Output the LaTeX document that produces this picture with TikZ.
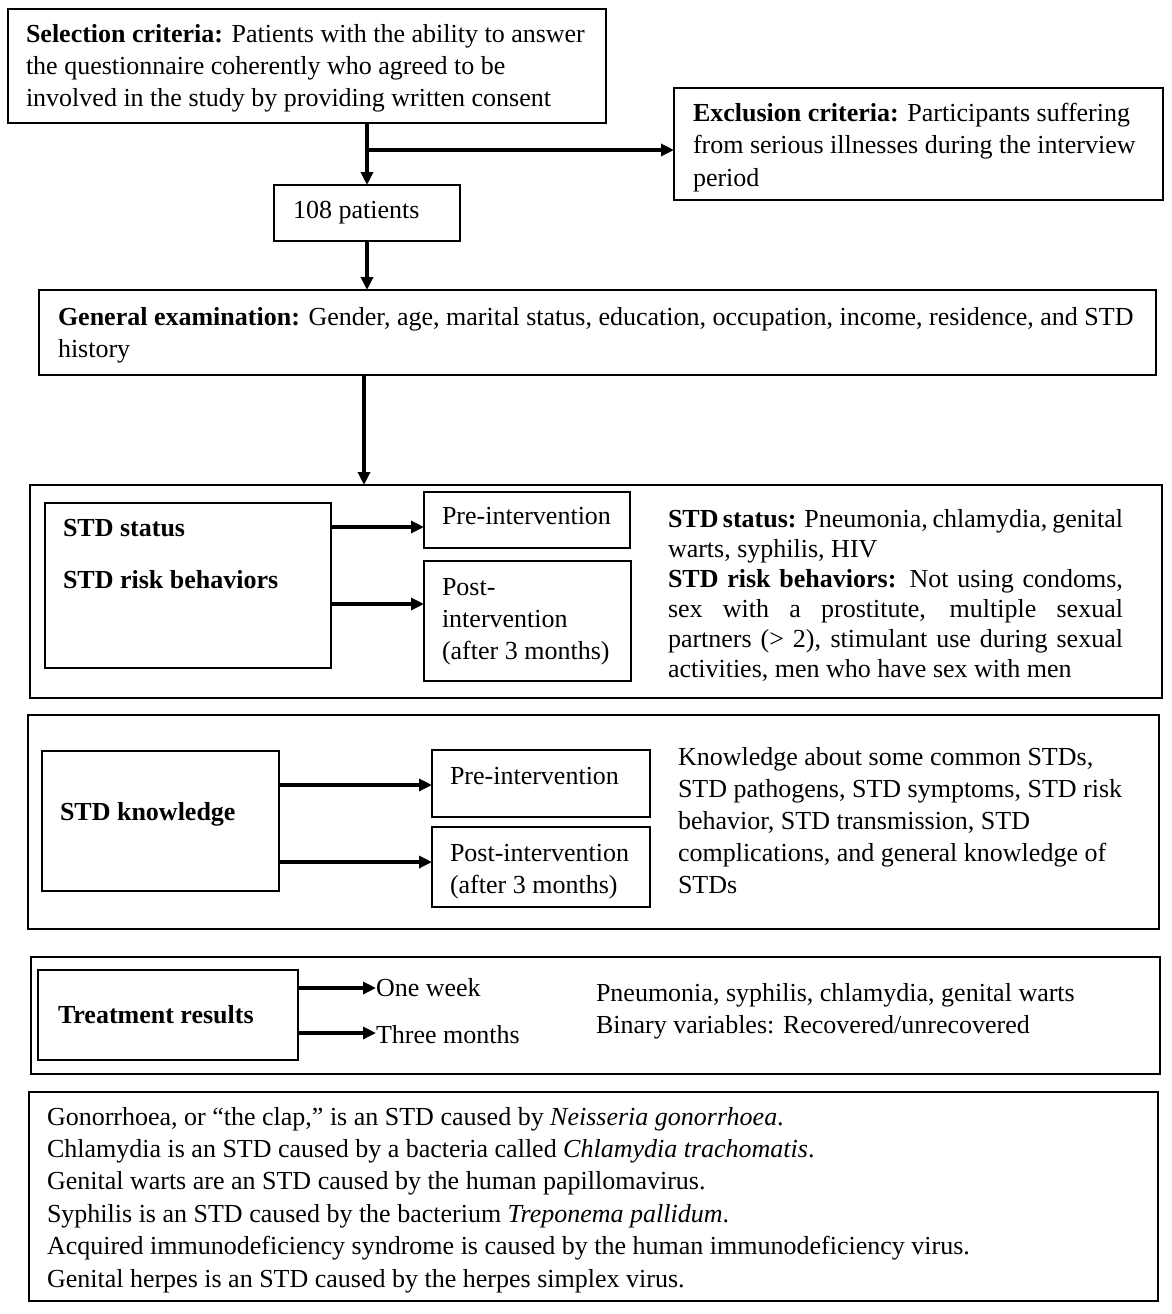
\documentclass[tikz,border=0pt]{standalone}
\usepackage{fontspec}
\setmainfont{Liberation Serif}
\usetikzlibrary{arrows.meta}
\tikzset{
  box/.style={draw, line width=1.8pt, inner sep=0pt, outer sep=0pt},
  arr/.style={line width=3.2pt, -{Triangle[length=13pt,width=12pt]}},
  txt/.style={anchor=base west, inner sep=0pt, outer sep=0pt, font=\fontsize{26}{32}\selectfont},
}
\newcommand\blk[2]{\vtop{\baselineskip=#1\relax #2}}
\begin{document}
\begin{tikzpicture}[x=1pt,y=-1pt]
\useasboundingbox (0,0) rectangle (1171,1314);
% boxes
\node[box, minimum width=598pt, minimum height=114pt] (sel) at (307,66) {};
\node[box, minimum width=489pt, minimum height=112pt] (excl) at (918.5,144) {};
\node[box, minimum width=186pt, minimum height=56pt] (p108) at (367,213) {};
\node[box, minimum width=1117pt, minimum height=85pt] (gen) at (597.5,332.5) {};
\node[box, minimum width=1132pt, minimum height=213pt] (b1) at (596,591.5) {};
\node[box, minimum width=286pt, minimum height=165pt] (stat) at (188,585.5) {};
\node[box, minimum width=206pt, minimum height=56pt] (pre1) at (527,520) {};
\node[box, minimum width=207pt, minimum height=120pt] (post1) at (527.5,621) {};
\node[box, minimum width=1131pt, minimum height=214pt] (b2) at (593.5,822) {};
\node[box, minimum width=237pt, minimum height=140pt] (know) at (160.5,821) {};
\node[box, minimum width=218pt, minimum height=67pt] (pre2) at (541,783.5) {};
\node[box, minimum width=218pt, minimum height=80pt] (post2) at (541,867) {};
\node[box, minimum width=1129pt, minimum height=117pt] (b3) at (595.5,1015.5) {};
\node[box, minimum width=260pt, minimum height=90pt] (treat) at (168,1015) {};
\node[box, minimum width=1129pt, minimum height=209pt] (b4) at (593.5,1196.5) {};
% texts
\node[txt] (selt) at (26,43) {\blk{32pt}{\hbox{\textbf{Selection criteria:} Patients with the ability to answer}\hbox{the questionnaire coherently who agreed to be}\hbox{involved in the study by providing written consent}}};
\node[txt] (exclt) at (693,121) {\blk{32.5pt}{\hbox{\textbf{Exclusion criteria:} Participants suffering}\hbox{from serious illnesses during the interview}\hbox{period}}};
\node[txt] (p108t) at (293,218) {108 patients};
\node[txt] (gent) at (58,325) {\blk{32pt}{\hbox{\textbf{General examination:} Gender, age, marital status, education, occupation, income, residence, and STD}\hbox{history}}};
\node[txt] (statt) at (63,536) {\blk{52pt}{\hbox{\textbf{STD status}}\hbox{\textbf{STD risk behaviors}}}};
\node[txt] (pre1t) at (442,524) {Pre-intervention};
\node[txt] (post1t) at (442,595) {\blk{32pt}{\hbox{Post-}\hbox{intervention}\hbox{(after 3 months)}}};
\node[txt] (desc1) at (668,527) {\vtop{\hsize=455pt\parindent=0pt\baselineskip=30pt\relax
  \noindent\textbf{STD status:} Pneumonia, chlamydia, genital\linebreak warts, syphilis, HIV\par
  \noindent\textbf{STD risk behaviors:} Not using condoms,\linebreak sex with a prostitute, multiple sexual\linebreak partners (> 2), stimulant use during sexual\linebreak activities, men who have sex with men\par}};
\node[txt] (knowt) at (60,820) {\textbf{STD knowledge}};
\node[txt] (pre2t) at (450,784) {Pre-intervention};
\node[txt] (post2t) at (450,861) {\blk{32pt}{\hbox{Post-intervention}\hbox{(after 3 months)}}};
\node[txt] (desc2) at (678,765) {\blk{32pt}{\hbox{Knowledge about some common STDs,}\hbox{STD pathogens, STD symptoms, STD risk}\hbox{behavior, STD transmission, STD}\hbox{complications, and general knowledge of}\hbox{STDs}}};
\node[txt] (treatt) at (58,1023) {\textbf{Treatment results}};
\node[txt] (wk) at (376,996) {One week};
\node[txt] (mo) at (376,1043) {Three months};
\node[txt] (desc3) at (596,1001) {\blk{32pt}{\hbox{Pneumonia, syphilis, chlamydia, genital warts}\hbox{Binary variables: Recovered/unrecovered}}};
\node[txt] (notes) at (47,1125) {\blk{32.4pt}{%
  \hbox{Gonorrhoea, or “the clap,” is an STD caused by \textit{Neisseria gonorrhoea}.}
  \hbox{Chlamydia is an STD caused by a bacteria called \textit{Chlamydia trachomatis}.}
  \hbox{Genital warts are an STD caused by the human papillomavirus.}
  \hbox{Syphilis is an STD caused by the bacterium \textit{Treponema pallidum}.}
  \hbox{Acquired immunodeficiency syndrome is caused by the human immunodeficiency virus.}
  \hbox{Genital herpes is an STD caused by the herpes simplex virus.}}};
% connectors
\coordinate (br) at (366,150);
\draw[arr] (p108.north |- sel.south) -- (p108.north);
\draw[line width=3.2pt] (br) -- (br -| 366,0);
\draw[arr] (br) -- (br -| excl.west);
\draw[arr] (p108.south) -- (p108.south |- gen.north);
\coordinate (g1) at (364,375);
\draw[arr] (g1) -- (g1 |- b1.north);
\coordinate (a1) at (331,527);
\coordinate (a2) at (331,604);
\draw[arr] (a1) -- (a1 -| pre1.west);
\draw[arr] (a2) -- (a2 -| post1.west);
\coordinate (k1) at (279,785);
\coordinate (k2) at (279,862);
\draw[arr] (k1) -- (k1 -| pre2.west);
\draw[arr] (k2) -- (k2 -| post2.west);
\coordinate (t1) at (298,988);
\coordinate (t2) at (298,1033);
\draw[arr] (t1) -- (t1 -| wk.west);
\draw[arr] (t2) -- (t2 -| mo.west);
\end{tikzpicture}
\end{document}
